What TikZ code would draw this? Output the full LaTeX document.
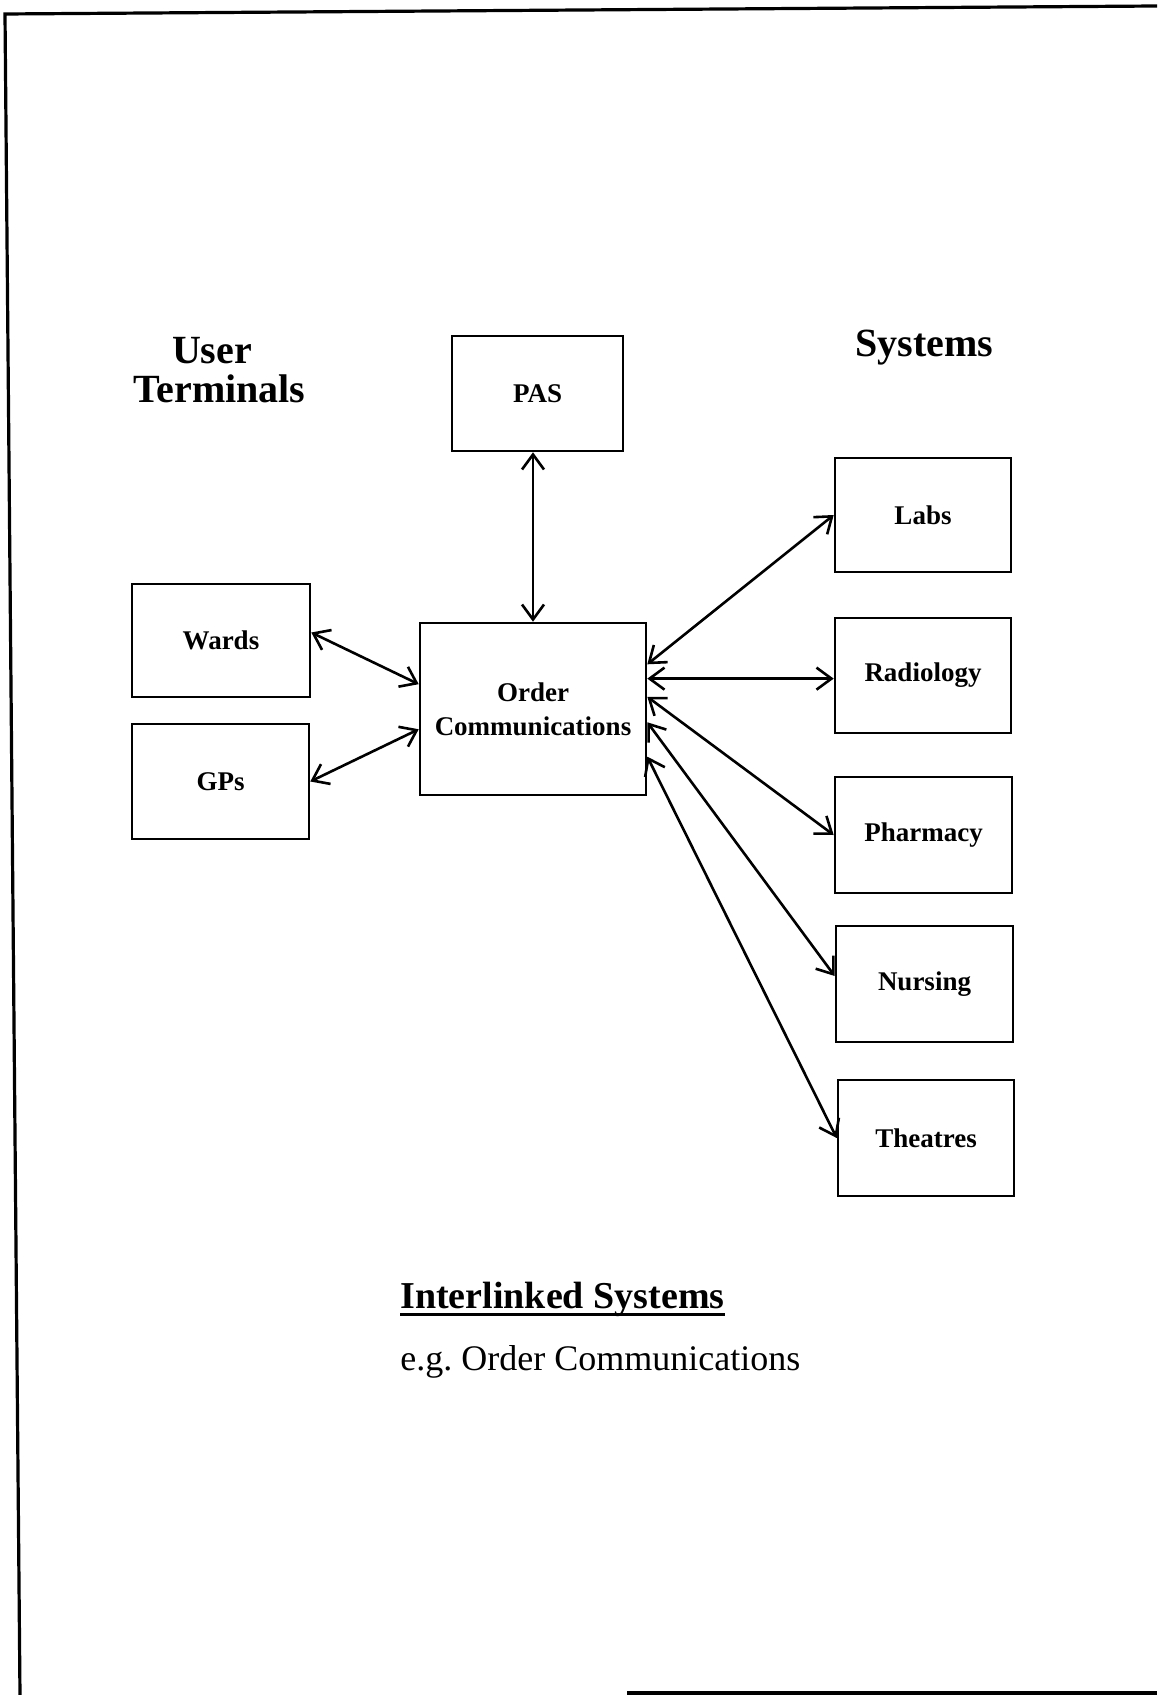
\documentclass[tikz,border=0pt]{standalone}
\usepackage{fontspec}
\setmainfont{Liberation Serif}
\usetikzlibrary{arrows.meta,calc}
\begin{document}
\begin{tikzpicture}[x=0.5pt,y=-0.5pt,
  box/.style={draw,line width=1.3pt,inner sep=0pt,align=center,
    font=\bfseries\fontsize{13.5}{17}\selectfont},
  link/.style={line width=1.3pt,>={Straight Barb[length=7.5pt,width=11pt]},<->},
  frame/.style={line width=1.6pt},
  heading/.style={font=\bfseries\fontsize{20}{20}\selectfont,anchor=base,inner sep=0pt},
]
\useasboundingbox (0,0) rectangle (1157,1695);
\fill[white] (0,0) rectangle (1157,1695);

% page frame
\draw[frame] (1157,6) -- (5,14) -- (20,1695);
\draw[frame] (627,1693) -- (1157,1693);

% column headings
\node[heading] (users) at (212,364) {User};
\node[heading] (terms) at (219.5,403) {Terminals};
\node[heading] (sys) at (924.5,357) {Systems};

% boxes
\node[box,minimum width=85.5pt,minimum height=57.5pt] (pas) at (537.5,393.5) {PAS};
\node[box,minimum width=113pt,minimum height=86pt] (order) at (533,709) {Order\\Communications};
\node[box,minimum width=89pt,minimum height=56.5pt] (wards) at (221,640.5) {Wards};
\node[box,minimum width=88.5pt,minimum height=57.5pt] (gps) at (220.5,781.5) {GPs};
\node[box,minimum width=88pt,minimum height=57pt] (labs) at (923,515) {Labs};
\node[box,minimum width=88pt,minimum height=57.5pt] (radio) at (923,675.5) {Radiology};
\node[box,minimum width=88.5pt,minimum height=58pt] (pharm) at (923.5,835) {Pharmacy};
\node[box,minimum width=88.5pt,minimum height=58pt] (nurse) at (924.5,984) {Nursing};
\node[box,minimum width=88pt,minimum height=58pt] (theat) at (926,1138) {Theatres};

% attachment points on the sides of the order box
\coordinate (w1) at ($(order.north west)!0.358!(order.south west)$);
\coordinate (w2) at ($(order.north west)!0.616!(order.south west)$);
\coordinate (e1) at ($(order.north east)!0.244!(order.south east)$);
\coordinate (e2) at ($(order.north east)!0.326!(order.south east)$);
\coordinate (e3) at ($(order.north east)!0.43!(order.south east)$);
\coordinate (e4) at ($(order.north east)!0.576!(order.south east)$);
\coordinate (e5) at ($(order.north east)!0.773!(order.south east)$);

% links
\draw[link] (pas.south -| order.north) -- (order.north);
\draw[link] ([yshift=4pt]wards.east) -- (w1);
\draw[link] (gps.east) -- (w2);
\draw[link] (e1) -- (labs.west);
\draw[link] (e2) -- (e2 -| radio.west);
\draw[link] (e3) -- (pharm.west);
\draw[link] (e4) -- ([yshift=4pt]nurse.west);
\draw[link] (e5) -- (theat.west);

% caption
\node[anchor=base west,inner sep=0pt,font=\bfseries\fontsize{19}{19}\selectfont] (cap) at (400,1308) {Interlinked Systems};
\draw[line width=1.5pt] ([yshift=-3pt]cap.base west) -- ([yshift=-3pt]cap.base east);
\node[anchor=base west,inner sep=0pt,font=\fontsize{18}{18}\selectfont] (eg) at (400,1370) {e.g.\ Order Communications};
\end{tikzpicture}
\end{document}
